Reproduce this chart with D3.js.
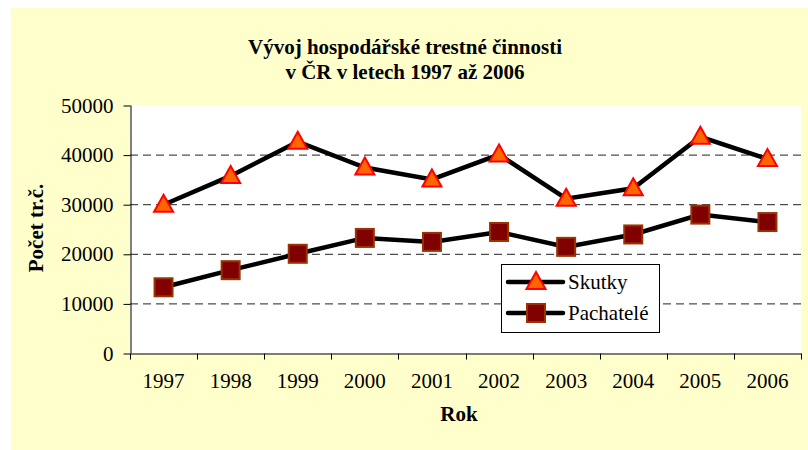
<!DOCTYPE html>
<html><head><meta charset="utf-8">
<script src="https://cdn.jsdelivr.net/npm/d3@7"></script>
<style>body{margin:0;background:#fff}svg{display:block}svg text{font-family:'Liberation Serif','Times New Roman',serif !important}</style>
</head><body>
<svg id="c" width="808" height="450"></svg>
<script>
const years = ["1997","1998","1999","2000","2001","2002","2003","2004","2005","2006"];
const skutky = [29900, 35700, 42600, 37400, 35000, 40000, 31100, 33200, 43600, 39100];
const pachatele = [13250, 16700, 20000, 23200, 22400, 24400, 21400, 23900, 27900, 26400];
const yTicks = [0, 10000, 20000, 30000, 40000, 50000];
const gridTicks = [10000, 20000, 30000, 40000];
const seriesNames = ["Skutky", "Pachatelé"];
const titleLines = ["Vývoj hospodářské trestné činnosti", "v ČR v letech 1997 až 2006"];

const font = "'Liberation Serif','Times New Roman',serif";
const FS = "21px";
const svg = d3.select("#c");
const L = 130, R = 801, T = 105, B = 353;

svg.append("rect").attr("x",11).attr("y",8).attr("width",797).attr("height",442).attr("fill","#FFFFCC");
svg.append("rect").attr("x",L).attr("y",T).attr("width",R-L).attr("height",B-T).attr("fill","#fff");

const x = d3.scaleBand().domain(years).range([L,R]).paddingInner(0).paddingOuter(0);
const y = d3.scaleLinear().domain([0,50000]).range([B,T]);

// grid
svg.append("g").selectAll("line").data(gridTicks).join("line")
  .attr("x1",L).attr("x2",R).attr("y1",d=>y(d)+0.5).attr("y2",d=>y(d)+0.5)
  .attr("stroke","#222").attr("stroke-width",1).attr("stroke-dasharray","8,5");

// y axis
const ya = svg.append("g").attr("transform",`translate(${L+0.5},0)`)
  .call(d3.axisLeft(y).tickValues(yTicks).tickSize(7).tickPadding(10).tickSizeOuter(0).tickFormat(d3.format("d")));
ya.select(".domain").attr("stroke","#000");
ya.selectAll(".tick line").attr("stroke","#000").attr("transform","translate(0,0.5)");
ya.selectAll("text").style("font-family",font).style("font-size",FS).attr("fill","#000").attr("dy","0.34em");

// x axis
const xa = svg.append("g").attr("transform",`translate(0,${B+0.5})`)
  .call(d3.axisBottom(x).tickSize(0).tickPadding(20).tickSizeOuter(0));
xa.select(".domain").attr("stroke","#000");
xa.selectAll("text").style("font-family",font).style("font-size",FS).attr("fill","#000");
const bounds = years.map(d=>x(d)).concat([R]);
xa.selectAll(".bt").data(bounds).join("line").attr("class","bt")
  .attr("x1",d=>Math.round(d)+0.5).attr("x2",d=>Math.round(d)+0.5).attr("y1",0).attr("y2",6).attr("stroke","#000");

function label(x0,y0,txt,rot){
  const t = svg.append("text").attr("text-anchor","middle")
    .style("font-family",font).style("font-weight","bold").style("font-size",FS).text(txt);
  if(rot) t.attr("transform",`translate(${x0},${y0}) rotate(-90)`); else t.attr("x",x0).attr("y",y0);
}
label(405,54,titleLines[0]);
label(405,79,titleLines[1]);
label(459,421,"Rok");
label(43,228,"Počet tr.č.",true);

const cx = d => x(d) + x.bandwidth()/2;
const line = d3.line().x((v,i)=>cx(years[i])).y(v=>y(v));

function drawTri(g, px, py){
  g.append("path").attr("d","M0,-10 L9.5,7 L-9.5,7 Z").attr("transform",`translate(${px},${py})`)
   .attr("fill","#FF6600").attr("stroke","#FF0000").attr("stroke-width",2).attr("stroke-linejoin","miter");
}
function drawSq(g, px, py){
  g.append("rect").attr("x",px-9).attr("y",py-9).attr("width",18).attr("height",18)
   .attr("fill","#800000").attr("stroke","#993300").attr("stroke-width",2);
}

// series
const sg = svg.append("g");
sg.append("path").datum(pachatele).attr("d",line).attr("fill","none").attr("stroke","#000").attr("stroke-width",4.5);
sg.append("path").datum(skutky).attr("d",line).attr("fill","none").attr("stroke","#000").attr("stroke-width",4.5);
pachatele.forEach((v,i)=>drawSq(sg,cx(years[i]),y(v)));
skutky.forEach((v,i)=>drawTri(sg,cx(years[i]),y(v)));

// legend
const lg = svg.append("g");
lg.append("rect").attr("x",501.5).attr("y",264.5).attr("width",158).attr("height",68).attr("fill","#fff").attr("stroke","#000").attr("stroke-width",1);
[282,313].forEach((ly,k)=>{
  lg.append("line").attr("x1",508).attr("x2",563).attr("y1",ly).attr("y2",ly).attr("stroke","#000").attr("stroke-width",4.5).attr("stroke-linecap","round");
  if(k===0) drawTri(lg,536,ly); else drawSq(lg,536,ly);
  lg.append("text").attr("x",568).attr("y",ly).attr("dy","0.34em").style("font-family",font).style("font-size",FS).text(seriesNames[k]);
});
</script>
</body></html>
